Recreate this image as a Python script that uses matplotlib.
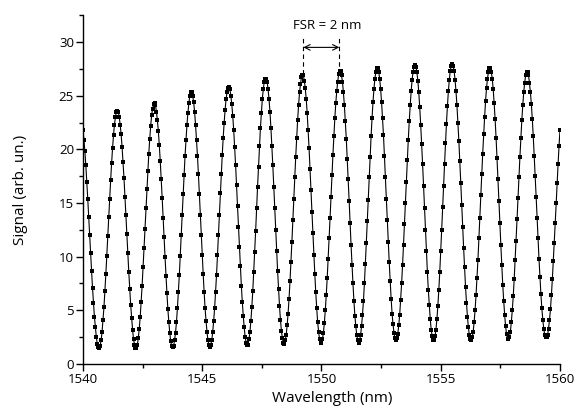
import numpy as np
import matplotlib
matplotlib.use("Agg")
import matplotlib.pyplot as plt
from matplotlib.ticker import MultipleLocator

# measured spectrum, one sample every 0.04 nm from 1540 to 1560 nm
signal = [
    21.8, 20.9, 19.8, 18.5, 17.0, 15.4, 13.7, 12.0, 10.3, 8.7, 7.1, 5.7, 4.4, 3.4, 2.5, 1.9, 1.6,
    1.5, 1.7, 2.2, 3.0, 4.1, 5.3, 6.8, 8.4, 10.1, 11.9, 13.7, 15.4, 17.1, 18.7, 20.1, 21.3, 22.3, 23.0, 23.5, 23.6,
    23.5, 23.0, 22.3, 21.4, 20.2, 18.8, 17.3, 15.6, 13.9, 12.1, 10.3, 8.6, 7.0, 5.5, 4.3, 3.2, 2.3, 1.8, 1.5,
    1.5, 1.8, 2.4, 3.3, 4.4, 5.8, 7.3, 9.0, 10.8, 12.6, 14.5, 16.3, 18.0, 19.6, 21.0, 22.2, 23.2, 23.8, 24.2,
    24.3, 24.1, 23.5, 22.7, 21.7, 20.4, 18.9, 17.2, 15.5, 13.6, 11.8, 10.0, 8.2, 6.6, 5.1, 3.9, 2.9, 2.1, 1.7, 1.55,
    1.7, 2.2, 2.9, 3.9, 5.2, 6.7, 8.3, 10.1, 12.0, 13.9, 15.8, 17.6, 19.4, 20.9, 22.3, 23.4, 24.3, 25.0, 25.3,
    25.3, 25.0, 24.4, 23.5, 22.3, 20.9, 19.4, 17.7, 15.8, 13.9, 12.0, 10.2, 8.4, 6.7, 5.2, 4.0, 3.0, 2.2, 1.8, 1.6,
    1.8, 2.2, 3.0, 4.0, 5.2, 6.7, 8.3, 10.2, 12.0, 13.9, 15.9, 17.7, 19.5, 21.1, 22.5, 23.7, 24.7, 25.3, 25.7,
    25.8, 25.6, 25.0, 24.2, 23.1, 21.8, 20.2, 18.5, 16.7, 14.7, 12.8, 10.9, 9.1, 7.3, 5.8, 4.5, 3.4, 2.5, 2.0, 1.8,
    1.8, 2.3, 3.0, 4.0, 5.3, 6.8, 8.6, 10.4, 12.4, 14.5, 16.5, 18.4, 20.3, 22.0, 23.4, 24.7, 25.6, 26.3, 26.6,
    26.6, 26.3, 25.6, 24.7, 23.5, 22.0, 20.3, 18.5, 16.5, 14.5, 12.5, 10.5, 8.7, 7.0, 5.4, 4.1, 3.1, 2.4, 2.0,
    1.9, 2.2, 2.7, 3.6, 4.7, 6.1, 7.7, 9.5, 11.4, 13.4, 15.4, 17.4, 19.3, 21.1, 22.7, 24.1, 25.3, 26.1, 26.7, 26.9,
    26.9, 26.4, 25.7, 24.7, 23.4, 21.8, 20.1, 18.2, 16.2, 14.2, 12.2, 10.2, 8.4, 6.7, 5.2, 3.9, 3.0, 2.3, 2.0,
    2.0, 2.3, 2.9, 3.8, 5.0, 6.4, 8.0, 9.8, 11.7, 13.6, 15.6, 17.6, 19.5, 21.2, 22.9, 24.3, 25.4, 26.3, 27.0, 27.3,
    27.3, 26.9, 26.3, 25.3, 24.1, 22.6, 21.0, 19.1, 17.2, 15.2, 13.1, 11.1, 9.2, 7.5, 5.9, 4.5, 3.5, 2.7, 2.2, 2.0,
    2.2, 2.7, 3.5, 4.6, 5.9, 7.5, 9.3, 11.3, 13.3, 15.3, 17.4, 19.3, 21.2, 22.9, 24.4, 25.6, 26.6, 27.2, 27.6,
    27.6, 27.2, 26.6, 25.6, 24.4, 22.9, 21.3, 19.4, 17.4, 15.4, 13.4, 11.4, 9.5, 7.7, 6.1, 4.7, 3.7, 2.9, 2.4, 2.2,
    2.4, 2.8, 3.6, 4.6, 6.0, 7.5, 9.2, 11.1, 13.0, 15.0, 17.0, 19.0, 20.9, 22.6, 24.1, 25.4, 26.5, 27.2, 27.7, 27.85,
    27.7, 27.2, 26.4, 25.3, 23.9, 22.3, 20.5, 18.6, 16.6, 14.5, 12.5, 10.5, 8.6, 6.9, 5.5, 4.2, 3.2, 2.6, 2.2,
    2.2, 2.6, 3.2, 4.2, 5.4, 6.9, 8.6, 10.5, 12.5, 14.6, 16.6, 18.6, 20.6, 22.4, 24.0, 25.4, 26.5, 27.3, 27.8, 27.95,
    27.8, 27.3, 26.5, 25.4, 24.1, 22.5, 20.8, 18.9, 16.9, 14.8, 12.8, 10.8, 9.0, 7.2, 5.7, 4.4, 3.4, 2.7, 2.3,
    2.2, 2.5, 3.0, 3.9, 5.0, 6.4, 8.0, 9.7, 11.7, 13.6, 15.7, 17.7, 19.6, 21.4, 23.0, 24.5, 25.7, 26.6, 27.2, 27.6,
    27.6, 27.2, 26.6, 25.6, 24.3, 22.8, 21.1, 19.2, 17.2, 15.2, 13.1, 11.1, 9.2, 7.4, 5.9, 4.6, 3.5, 2.8, 2.3,
    2.3, 2.5, 3.0, 3.9, 5.0, 6.3, 7.9, 9.7, 11.5, 13.5, 15.5, 17.4, 19.3, 21.1, 22.7, 24.1, 25.3, 26.2, 26.9, 27.2,
    27.2, 26.9, 26.2, 25.3, 24.2, 22.8, 21.2, 19.4, 17.5, 15.6, 13.6, 11.7, 9.8, 8.1, 6.5, 5.2, 4.1, 3.3, 2.7, 2.5,
    2.5, 2.7, 3.3, 4.1, 5.1, 6.4, 7.9, 9.6, 11.3, 13.1, 15.0, 16.9, 18.6, 20.3, 21.8,
]
wl_start, wl_end = 1540, 1560
wavelength = np.linspace(wl_start, wl_end, len(signal))

# two neighbouring peaks used to mark the free spectral range
fsr_peaks = [1549.24, 1550.75]
fsr_label = "FSR = 2 nm"

plt.rcParams['font.family'] = ['Open Sans', 'DejaVu Sans']

fig = plt.figure(figsize=(5.77, 4.07), dpi=100)
ax = fig.add_axes([0.1438, 0.1057, 0.8267, 0.857])

ax.plot(wavelength, signal, color='black', linewidth=0.8, marker='s', markersize=2.3,
        markerfacecolor='black', markeredgewidth=0)

# FSR marker: dashed guides and a double arrow
for p in fsr_peaks:
    ax.plot([p, p], [27.0, 30.35], color='black', linestyle=(0, (4, 3)), linewidth=0.8)
ax.annotate("", xy=(fsr_peaks[0], 29.5), xytext=(fsr_peaks[1], 29.5),
            arrowprops=dict(arrowstyle='<->', color='black', linewidth=0.8, shrinkA=0, shrinkB=0))
ax.text(1550.25, 31.5, fsr_label, ha='center', va='center', fontsize=9.5)

ax.set_xlim(wl_start, wl_end)
ax.set_ylim(0, 32.5)
ax.xaxis.set_major_locator(MultipleLocator(5))
ax.xaxis.set_minor_locator(MultipleLocator(2.5))
ax.yaxis.set_major_locator(MultipleLocator(5))
ax.yaxis.set_minor_locator(MultipleLocator(2.5))
ax.tick_params(which='major', direction='out', length=5, width=1, labelsize=9.5, pad=1.5)
ax.tick_params(which='minor', direction='out', length=3, width=1)

for side in ['top', 'right']:
    ax.spines[side].set_visible(False)
for side in ['left', 'bottom']:
    ax.spines[side].set_linewidth(1)

ax.set_xlabel("Wavelength (nm)", fontsize=11, labelpad=0)
ax.xaxis.set_label_coords(0.523, -0.078)
ax.set_ylabel("Signal (arb. un.)", fontsize=11)
ax.yaxis.set_label_coords(-0.115, 0.5)

fig.savefig("out.png", dpi=100)
